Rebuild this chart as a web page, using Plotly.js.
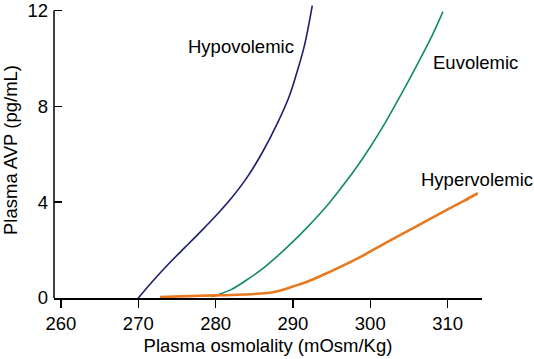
<!DOCTYPE html>
<html>
<head>
<meta charset="utf-8">
<script src="https://cdn.plot.ly/plotly-3.0.1.min.js"></script>
<style>html,body{margin:0;padding:0;background:#fff;}#chart{width:534px;height:359px;}</style>
</head>
<body>
<div id="chart"></div>
<script>
// Hypovolemic
const hypoX = [270.0, 272.0, 274.0, 276.0, 278.0, 280.0, 282.0, 284.0, 286.0, 288.0, 289.5, 290.5, 291.5, 292.5];
const hypoY = [0.0, 0.75, 1.45, 2.1, 2.75, 3.42, 4.15, 5.0, 6.05, 7.3, 8.4, 9.4, 10.55, 12.2];
// Euvolemic
const euvoX = [279.5, 282.0, 284.0, 286.0, 288.0, 290.0, 292.0, 294.0, 296.0, 298.0, 300.0, 302.0, 304.0, 306.0, 308.0, 309.4];
const euvoY = [0.05, 0.35, 0.75, 1.2, 1.75, 2.35, 3.0, 3.7, 4.5, 5.35, 6.3, 7.35, 8.5, 9.7, 10.95, 11.95];
// Hypervolemic
const hyperX = [272.8, 276.5, 280.1, 285.0, 287.0, 288.5, 290.0, 292.0, 294.0, 296.0, 299.0, 302.0, 305.6, 309.0, 312.1, 313.9];
const hyperY = [0.04, 0.08, 0.11, 0.17, 0.22, 0.32, 0.48, 0.7, 0.98, 1.28, 1.76, 2.3, 2.93, 3.52, 4.05, 4.37];

const xTicks = [260, 270, 280, 290, 300, 310];
const yTicks = [0, 4, 8, 12];
const labels = ["Hypovolemic", "Euvolemic", "Hypervolemic"];

const font = "Liberation Sans, Arial, Helvetica, sans-serif";
const fs = 18.5;

const traces = [
  {x: hypoX, y: hypoY, mode: "lines", line: {color: "#1d1f6b", width: 1.6, shape: "spline", smoothing: 1}, name: labels[0]},
  {x: euvoX, y: euvoY, mode: "lines", line: {color: "#12896a", width: 1.6, shape: "spline", smoothing: 1}, name: labels[1]},
  {x: hyperX, y: hyperY, mode: "lines", line: {color: "#e8791f", width: 2.6, shape: "spline", smoothing: 1}, name: labels[2]}
];

const layout = {
  width: 534, height: 359,
  margin: {l: 54, r: 52, t: 2, b: 61, pad: 0},
  paper_bgcolor: "#fff", plot_bgcolor: "#fff",
  showlegend: false,
  font: {family: font, size: fs, color: "#000"},
  xaxis: {
    range: [259.1, 314.45], tickvals: xTicks, ticktext: xTicks.map(String),
    ticks: "outside", ticklen: 8, tickwidth: 1.5, tickcolor: "#000",
    showline: true, linecolor: "#000", linewidth: 1.5,
    showgrid: false, zeroline: false,
    tickfont: {family: font, size: fs, color: "#000"},
    title: {text: "Plasma osmolality (mOsm/Kg)", font: {family: font, size: fs, color: "#000"}, standoff: 6}
  },
  yaxis: {
    range: [0, 12.35], tickvals: yTicks, ticktext: yTicks.map(String),
    ticks: "inside", ticklen: 8, tickwidth: 1.5, tickcolor: "#000",
    showline: false, showgrid: false, zeroline: false,
    ticklabelstandoff: 5, ticklabeloverflow: "allow",
    tickfont: {family: font, size: fs, color: "#000"},
    title: {text: "Plasma AVP (pg/mL)", font: {family: font, size: fs, color: "#000"}, standoff: 9}
  },
  shapes: [
    {type: "line", xref: "paper", x0: 0, x1: 0, yref: "y", y0: 0, y1: 12, line: {color: "#000", width: 1.5}}
  ],
  annotations: [
    {x: 283.25, y: 10.48, xref: "x", yref: "y", text: labels[0], showarrow: false, font: {family: font, size: fs, color: "#000"}},
    {x: 313.6, y: 9.82, xref: "x", yref: "y", text: labels[1], showarrow: false, font: {family: font, size: fs, color: "#000"}},
    {x: 313.8, y: 4.95, xref: "x", yref: "y", text: labels[2], showarrow: false, font: {family: font, size: fs, color: "#000"}}
  ]
};

Plotly.newPlot("chart", traces, layout, {displayModeBar: false, staticPlot: true});
</script>
</body>
</html>
